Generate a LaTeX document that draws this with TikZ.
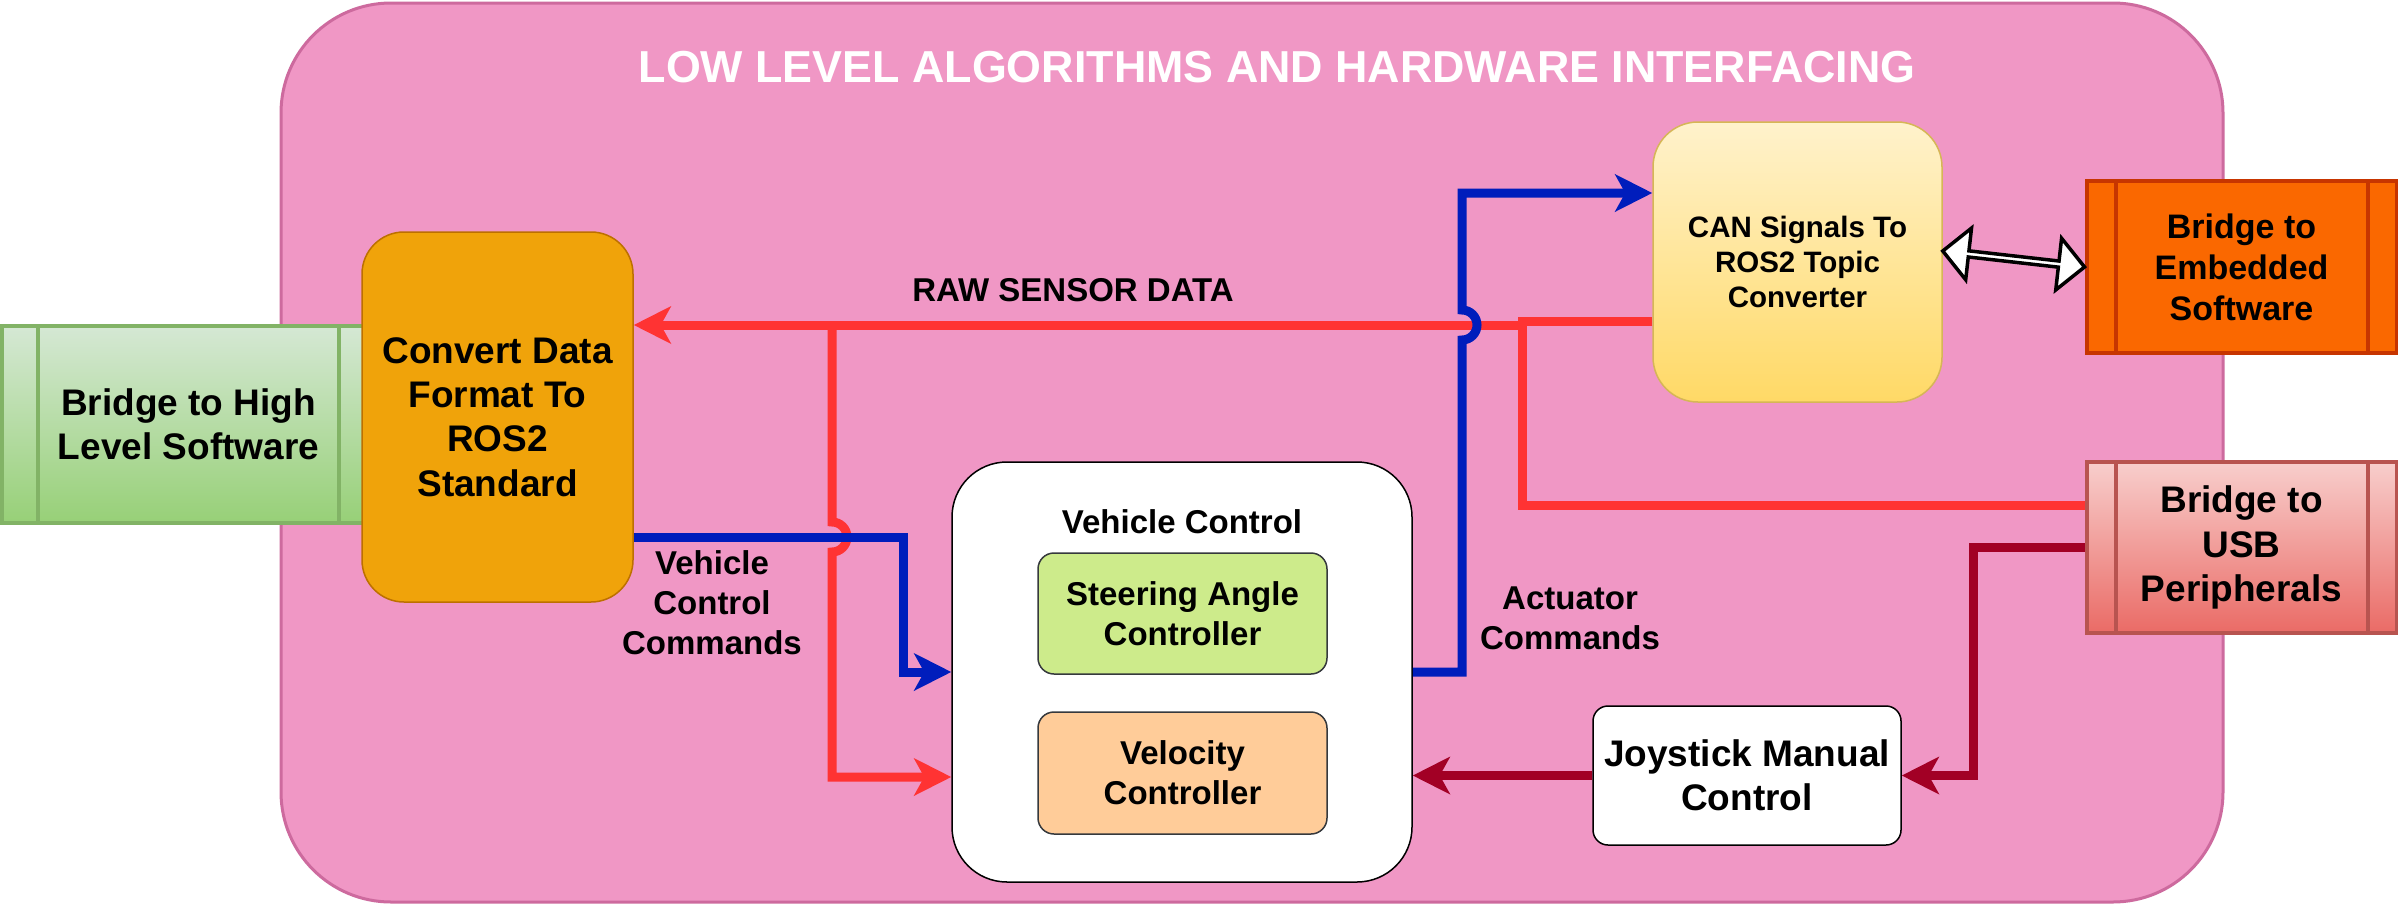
\documentclass[tikz,border=0pt]{standalone}
\usepackage{fontspec}
\setmainfont{Liberation Sans}
\usetikzlibrary{arrows.meta,calc,shapes.arrows}
\definecolor{pinkfill}{HTML}{F097C5}
\definecolor{pinkline}{HTML}{CD6A9E}
\definecolor{greentop}{HTML}{D5E8D4}
\definecolor{greenbot}{HTML}{97D077}
\definecolor{greenline}{HTML}{82B366}
\definecolor{orangefill}{HTML}{F0A30A}
\definecolor{orangeline}{HTML}{BD7000}
\definecolor{cantop}{HTML}{FFF2CC}
\definecolor{canbot}{HTML}{FFD966}
\definecolor{canline}{HTML}{D6B656}
\definecolor{embfill}{HTML}{FA6800}
\definecolor{embline}{HTML}{C73500}
\definecolor{usbtop}{HTML}{F8CECC}
\definecolor{usbbot}{HTML}{EA6B66}
\definecolor{usbline}{HTML}{B85450}
\definecolor{steerfill}{HTML}{CDEB8B}
\definecolor{velfill}{HTML}{FFCC99}
\definecolor{darkline}{HTML}{36393D}
\definecolor{redline}{HTML}{FF3333}
\definecolor{blueline}{HTML}{001DBC}
\definecolor{maroonline}{HTML}{A20025}
\tikzset{
  fbig/.style={font=\bfseries\fontsize{37}{44.4}\selectfont},
  fsmall/.style={font=\bfseries\fontsize{33}{40}\selectfont},
  fcan/.style={font=\bfseries\fontsize{29.5}{35.4}\selectfont},
  femb/.style={font=\bfseries\fontsize{34}{41}\selectfont},
  ftitle/.style={font=\bfseries\fontsize{44.8}{53}\selectfont},
  box/.style={inner sep=0pt, align=center, text=black},
  lbl/.style={inner sep=0pt, align=center, text=black},
  conn/.style={line width=9pt, line join=miter, line cap=butt},
  arr/.style={conn, -{Stealth[length=37pt,width=37pt,inset=10pt]}},
}
\begin{document}
\begin{tikzpicture}[x=1pt,y=-1pt]
\useasboundingbox (0,0) rectangle (2398,905);
\fill[white] (0,0) rectangle (2398,905);

% main container
\node[box, draw=pinkline, fill=pinkfill, line width=3pt, rounded corners=110pt,
      minimum width=1942pt, minimum height=899pt] (main) at (1252,452.5) {};
\node[lbl, ftitle, text=white] (ttl) at (1277,67) {LOW LEVEL ALGORITHMS AND HARDWARE INTERFACING};

% bridge to high level software
\node[box, fbig, draw=greenline, line width=4pt, top color=greentop, bottom color=greenbot,
      minimum width=373pt, minimum height=197pt] (hl) at (188.5,424.5) {Bridge to High\\Level Software};
\draw[greenline, line width=4pt] ($(hl.north west)+(38,0)$) -- ($(hl.south west)+(38,0)$);
\draw[greenline, line width=4pt] ($(hl.north east)+(-38,0)$) -- ($(hl.south east)+(-38,0)$);

% convert
\node[box, fbig, draw=orangeline, line width=1.5pt, fill=orangefill, rounded corners=42pt,
      minimum width=271pt, minimum height=370pt] (conv) at (497.5,417) {Convert Data\\Format To\\ROS2\\Standard};

% CAN converter
\node[box, fcan, draw=canline, line width=1.5pt, top color=cantop, bottom color=canbot, rounded corners=45pt,
      minimum width=289pt, minimum height=280pt] (can) at (1797.5,262) {CAN Signals To\\ROS2 Topic\\Converter};

% bridge to embedded
\node[box, femb, draw=embline, line width=4pt, fill=embfill,
      minimum width=310pt, minimum height=172pt] (emb) at (2241.5,267) {Bridge to\\Embedded\\Software};
\draw[embline, line width=4pt] ($(emb.north west)+(31,0)$) -- ($(emb.south west)+(31,0)$);
\draw[embline, line width=4pt] ($(emb.north east)+(-31,0)$) -- ($(emb.south east)+(-31,0)$);

% bridge to USB
\node[box, fbig, draw=usbline, line width=4pt, top color=usbtop, bottom color=usbbot,
      minimum width=310pt, minimum height=171pt] (usb) at (2241.5,547.5) {Bridge to\\USB\\Peripherals};
\draw[usbline, line width=4pt] ($(usb.north west)+(31,0)$) -- ($(usb.south west)+(31,0)$);
\draw[usbline, line width=4pt] ($(usb.north east)+(-31,0)$) -- ($(usb.south east)+(-31,0)$);

% vehicle control
\node[box, draw=black, line width=1.5pt, fill=white, rounded corners=55pt,
      minimum width=460pt, minimum height=420pt] (vc) at (1182,672) {};
\node[lbl, fsmall] (vct) at (1182,522) {Vehicle Control};
\node[box, fsmall, draw=darkline, line width=1.5pt, fill=steerfill, rounded corners=16pt,
      minimum width=289pt, minimum height=121pt] (steer) at (1182.5,613.5) {Steering Angle\\Controller};
\node[box, fsmall, draw=darkline, line width=1.5pt, fill=velfill, rounded corners=16pt,
      minimum width=289pt, minimum height=122pt] (vel) at (1182.5,773) {Velocity\\Controller};

% joystick
\node[box, fbig, draw=black, line width=1.5pt, fill=white, rounded corners=15pt,
      minimum width=308pt, minimum height=139pt] (joy) at (1747,775.5) {Joystick Manual\\Control};

% labels
\node[lbl, fsmall] (raw) at (1073,290) {RAW SENSOR DATA};
\node[lbl, fsmall] (vcc) at (712,603) {Vehicle\\Control\\Commands};
\node[lbl, fsmall] (act) at (1570,618) {Actuator\\Commands};

% coordinates
\coordinate (usbout) at ($(usb.west)+(0,-42)$);
\coordinate (convin) at ($(conv.east)+(0,-92)$);
\coordinate (convout) at ($(conv.east)+(0,120)$);
\coordinate (canout) at ($(can.west)+(0,59)$);
\coordinate (canin) at ($(can.west)+(0,-69)$);
\coordinate (canr) at ($(can.east)+(0,-11)$);
\coordinate (vcin) at ($(vc.west)+(0,105)$);
\coordinate (rk) at (1522,325);
\coordinate (rj) at (832,325);
\coordinate (bj) at (1462,325);
\coordinate (bk) at (903,537);
\coordinate (mk) at (1973,0);

% red raw sensor data
\draw[arr, redline] (usbout) -| (rk) -- (convin);
\draw[conn, redline] (canout) -- ($(canout -| rk)+(-4.5,0)$);
\draw[arr, redline] (rj) -- ($(rj)+(0,197)$) arc[start angle=90, end angle=-90, radius=15pt] -- (rj |- vcin) -- (vcin);

% blue vehicle control commands
\draw[arr, blueline] (convout) -- (bk) |- (vc.west);

% blue actuator commands
\draw[arr, blueline] (vc.east) -| ($(bj)+(0,15)$) arc[start angle=-90, end angle=90, radius=15pt] -- (bj |- canin) -- (canin);

% maroon
\draw[arr, maroonline] (usb.west) -| (mk |- joy.east) -- (joy.east);
\draw[arr, maroonline] (joy.west) -- (joy.west -| vc.east);

% double arrow CAN <-> embedded
\path let \p1=($(emb.west)-(canr)$), \n1={atan2(\y1,\x1)}, \n2={veclen(\x1,\y1)} in
  node[double arrow, draw=black, fill=white, line width=3.5pt, inner sep=0pt,
       minimum width=52pt, double arrow head extend=13pt, minimum height=\n2,
       rotate=\n1, anchor=center] (dbl) at ($(canr)!0.5!(emb.west)$) {};
\end{tikzpicture}
\end{document}
